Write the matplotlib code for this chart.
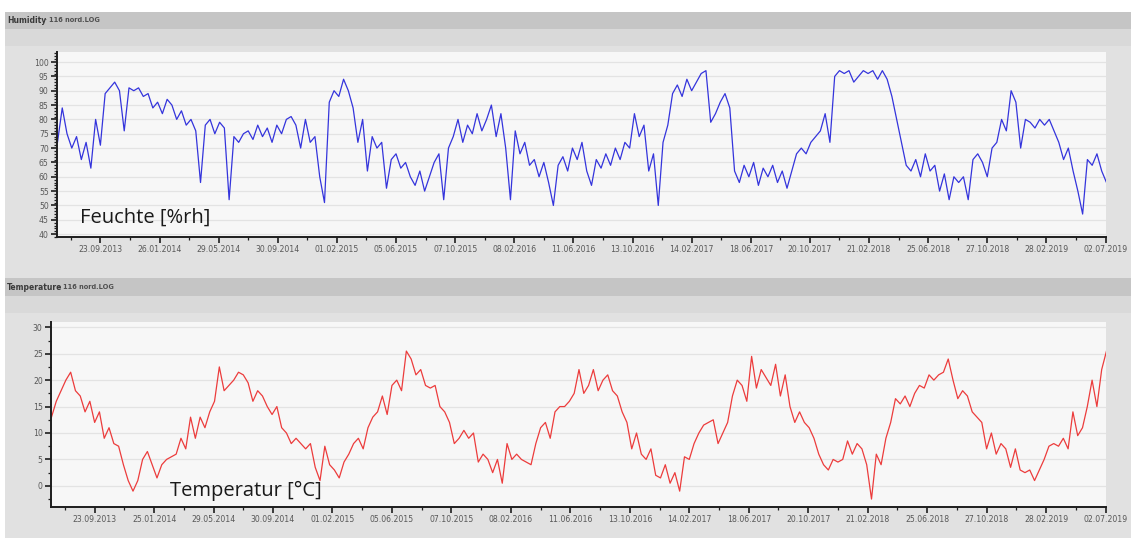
"""
Logger export: humidity and temperature, 116 nord.LOG (06.2013 - 07.2019)
"""

import matplotlib
matplotlib.use("Agg")
import matplotlib.pyplot as plt
from matplotlib.patches import Rectangle
from matplotlib.ticker import MultipleLocator, FixedLocator
import matplotlib.dates as mdates
import pandas as pd

# ── Colours ───────────────────────────────────────────────────────────────────
PANEL   = "#e1e1e1"
HEADER  = "#c5c5c5"
BAND    = "#d9d9d9"
PLOTBG  = "#f7f7f7"
GRID    = "#e3e3e3"
AXIS    = "#1e1e1e"
TICKTXT = "#585858"
BLUE    = "#3434dc"
RED     = "#ec3c3c"

W, H = 1131, 538

# ── Data (10-day samples) ────────────────────────────────────────────────────
START_DATE = "2013-06-25"
STEP = "10D"

HUMIDITY = [
    72, 84, 75, 70, 74, 66, 72, 63, 80, 71,
    89, 91, 93, 90, 76, 91, 90, 91, 88, 89,
    84, 86, 82, 87, 85, 80, 83, 78, 80, 76,
    58, 78, 80, 75, 79, 77, 52, 74, 72, 75,
    76, 73, 78, 74, 77, 72, 78, 75, 80, 81,
    78, 70, 80, 72, 74, 60, 51, 86, 90, 88,
    94, 90, 84, 72, 80, 62, 74, 70, 72, 56,
    66, 68, 63, 65, 60, 57, 62, 55, 60, 65,
    68, 52, 70, 74, 80, 72, 78, 75, 82, 76,
    80, 85, 74, 82, 70, 52, 76, 68, 72, 64,
    66, 60, 65, 58, 50, 64, 67, 62, 70, 66,
    72, 62, 57, 66, 63, 68, 64, 70, 66, 72,
    70, 82, 74, 78, 62, 68, 50, 72, 78, 89,
    92, 88, 94, 90, 93, 96, 97, 79, 82, 86,
    89, 84, 62, 58, 64, 60, 65, 57, 63, 60,
    64, 58, 62, 56, 62, 68, 70, 68, 72, 74,
    76, 82, 72, 95, 97, 96, 97, 93, 95, 97,
    96, 97, 94, 97, 94, 88, 80, 72, 64, 62,
    66, 60, 68, 62, 64, 55, 61, 52, 60, 58,
    60, 52, 66, 68, 65, 60, 70, 72, 80, 76,
    90, 86, 70, 80, 79, 77, 80, 78, 80, 76,
    72, 66, 70, 62, 55, 47, 66, 64, 68, 62,
    58,
]

TEMPERATURE = [
    13, 16, 18, 20, 21.5, 18, 17, 14, 16, 12,
    14, 9, 11, 8, 7.5, 4, 1, -1, 1, 5,
    6.5, 4, 1.5, 4, 5, 5.5, 6, 9, 7, 13,
    9, 13, 11, 14, 16, 22.5, 18, 19, 20, 21.5,
    21, 19.5, 16, 18, 17, 15, 13.5, 15, 11, 10,
    8, 9, 8, 7, 8, 3.5, 1, 7.5, 4, 3,
    1.5, 4.5, 6, 8, 9, 7, 11, 13, 14, 17,
    13.5, 19, 20, 18, 25.5, 24, 21, 22, 19, 18.5,
    19, 15, 14, 12, 8, 9, 10.5, 9, 10, 4.5,
    6, 5, 2.5, 5, 0.5, 8, 5, 6, 5, 4.5,
    4, 8, 11, 12, 9, 14, 15, 15, 16, 17.5,
    22, 17.5, 19, 22, 18, 20, 21, 18, 17, 14,
    12, 7, 10, 6, 5, 7, 2, 1.5, 4, 0.5,
    2.5, -1, 5.5, 5, 8, 10, 11.5, 12, 12.5, 8,
    10, 12, 17, 20, 19, 16, 24.5, 18.5, 22, 20.5,
    19, 23, 17, 21, 15, 12, 14, 12, 11, 9,
    6, 4, 3, 5, 4.5, 5, 8.5, 6, 8, 7,
    4, -2.5, 6, 4, 9, 12, 16.5, 15.5, 17, 15,
    17.5, 19, 18.5, 21, 20, 21, 21.5, 24, 20, 16.5,
    18, 17, 14, 13, 12, 7, 10, 6, 8, 7,
    3.5, 7, 3, 2.5, 3, 1, 3, 5, 7.5, 8,
    7.5, 9, 7, 14, 9.5, 11, 15, 20, 15, 22,
    25.5,
]

HUM_TICKLABELS = [
    "23.09.2013", "26.01.2014", "29.05.2014", "30.09.2014", "01.02.2015",
    "05.06.2015", "07.10.2015", "08.02.2016", "11.06.2016", "13.10.2016",
    "14.02.2017", "18.06.2017", "20.10.2017", "21.02.2018", "25.06.2018",
    "27.10.2018", "28.02.2019", "02.07.2019",
]
TEMP_TICKLABELS = [
    "23.09.2013", "25.01.2014", "29.05.2014", "30.09.2014", "01.02.2015",
    "05.06.2015", "07.10.2015", "08.02.2016", "11.06.2016", "13.10.2016",
    "14.02.2017", "18.06.2017", "20.10.2017", "21.02.2018", "25.06.2018",
    "27.10.2018", "28.02.2019", "02.07.2019",
]

X_RANGE = ("2013-06-24", "2019-07-03")


def px_axes(fig, x0, y0, x1, y1):
    """Axes from pixel box (top-left origin)."""
    return fig.add_axes([x0 / W, (H - y1) / H, (x1 - x0) / W, (y1 - y0) / H])


def px_rect(fig, x0, y0, x1, y1, color):
    fig.patches.append(Rectangle((x0 / W, (H - y1) / H), (x1 - x0) / W, (y1 - y0) / H,
                                 transform=fig.transFigure, facecolor=color,
                                 edgecolor="none", zorder=-10))


def style_axes(ax, labels, ylim, ymajor, yminor):
    ax.set_facecolor(PLOTBG)
    for side in ("top", "right"):
        ax.spines[side].set_visible(False)
    for side in ("left", "bottom"):
        ax.spines[side].set_color(AXIS)
        ax.spines[side].set_linewidth(1.4)

    ticks = pd.to_datetime(labels, format="%d.%m.%Y")
    tnum = mdates.date2num(ticks)
    step = tnum[1] - tnum[0]
    minor = [tnum[0] - step / 2] + [(a + b) / 2 for a, b in zip(tnum[:-1], tnum[1:])]
    ax.xaxis.set_major_locator(FixedLocator(tnum))
    ax.xaxis.set_minor_locator(FixedLocator(minor))
    ax.set_xticklabels(labels)
    ax.set_xlim(pd.Timestamp(X_RANGE[0]), pd.Timestamp(X_RANGE[1]))

    ax.set_ylim(*ylim)
    ax.yaxis.set_major_locator(MultipleLocator(ymajor))
    ax.yaxis.set_minor_locator(MultipleLocator(yminor))
    ax.yaxis.grid(True, which="major", color=GRID, linewidth=0.9)
    ax.set_axisbelow(True)

    ax.tick_params(which="major", length=4, width=1.2, color=AXIS,
                   labelsize=5.6, labelcolor=TICKTXT, pad=2)
    ax.tick_params(which="minor", length=2, width=0.9, color=AXIS)


def make_chart(out_path):
    fig = plt.figure(figsize=(W / 100, H / 100), dpi=100, facecolor="white")

    # window chrome
    px_rect(fig, 5, 12, W, H, PANEL)
    px_rect(fig, 5, 12, W, 29, HEADER)
    px_rect(fig, 5, 29, W, 46, BAND)
    px_rect(fig, 5, 278, W, 296, HEADER)
    px_rect(fig, 5, 296, W, 313, BAND)

    fig.text(7 / W, 1 - 20.5 / H, "Humidity", fontsize=5.5, fontweight="bold",
             color="#3a3a3a", va="center")
    fig.text(44 / W, 1 - 20.5 / H, "- 116 nord.LOG", fontsize=4.8, fontweight="bold",
             color="#505050", va="center")
    fig.text(7 / W, 1 - 287 / H, "Temperature", fontsize=5.5, fontweight="bold",
             color="#3a3a3a", va="center")
    fig.text(58 / W, 1 - 287 / H, "- 116 nord.LOG", fontsize=4.8, fontweight="bold",
             color="#505050", va="center")

    hum_dates = pd.date_range(START_DATE, periods=len(HUMIDITY), freq=STEP)
    temp_dates = pd.date_range(START_DATE, periods=len(TEMPERATURE), freq=STEP)

    # ── Humidity ──────────────────────────────────────────────────────────────
    ax1 = px_axes(fig, 57, 52, 1106, 237)
    style_axes(ax1, HUM_TICKLABELS, (39, 103.5), 5, 1)
    ax1.plot(hum_dates, HUMIDITY, color=BLUE, linewidth=0.9)
    ax1.text(0.022, 0.105, "Feuchte [%rh]", transform=ax1.transAxes,
             fontsize=14.5, family="Open Sans", color="#1a1a1a", va="center")

    # ── Temperature ───────────────────────────────────────────────────────────
    ax2 = px_axes(fig, 51, 322, 1106, 507)
    style_axes(ax2, TEMP_TICKLABELS, (-4, 31), 5, 2.5)
    ax2.plot(temp_dates, TEMPERATURE, color=RED, linewidth=0.9)
    ax2.text(0.113, 0.086, "Temperatur [°C]", transform=ax2.transAxes,
             fontsize=14.5, family="Open Sans", color="#1a1a1a", va="center")

    fig.savefig(out_path, dpi=100, facecolor="white")
    plt.close(fig)


def main():
    make_chart("out.png")


if __name__ == "__main__":
    main()
